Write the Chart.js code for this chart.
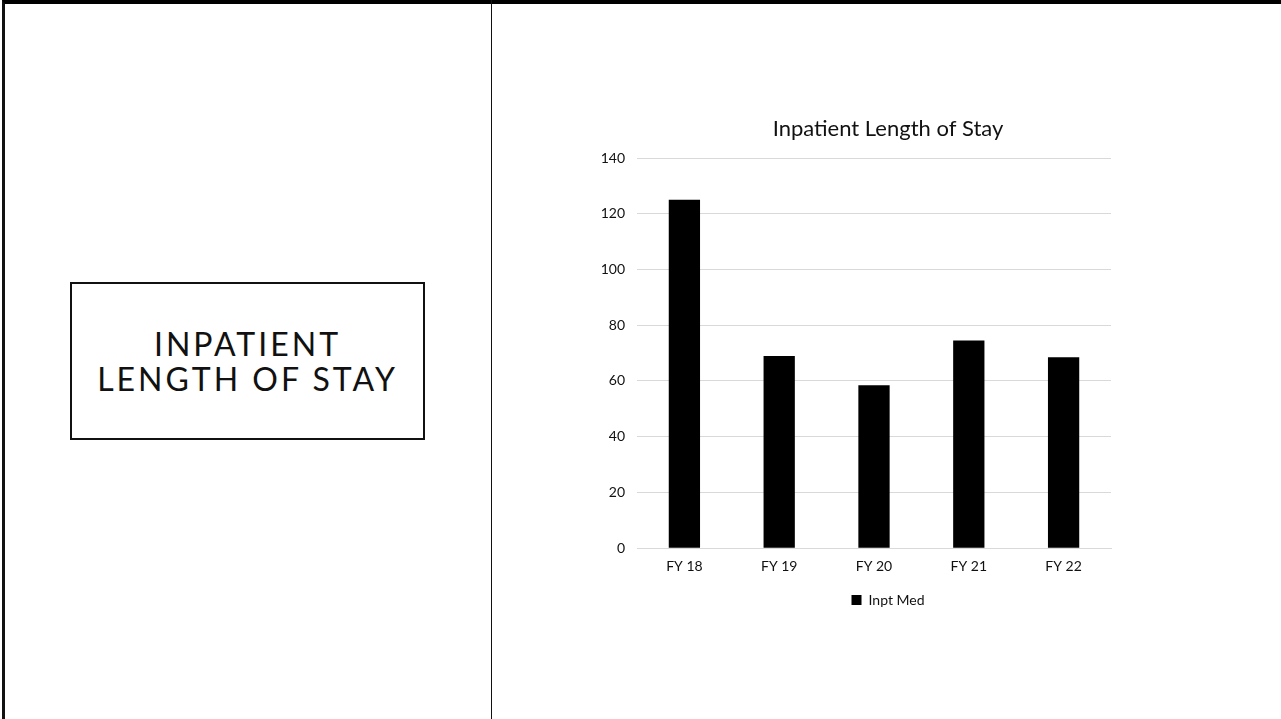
<!DOCTYPE html>
<html>
<head>
<meta charset="utf-8">
<script src="https://cdn.jsdelivr.net/npm/chart.js@4/dist/chart.umd.min.js"></script>
<style>
  html, body { margin: 0; padding: 0; background: #fff; }
  body { width: 1281px; height: 719px; position: relative; overflow: hidden; font-family: Lato, "Open Sans", sans-serif; }
  #marco { position: absolute; left: 2px; top: 0; width: 1276px; height: 716px; border-top: 4px solid #000; border-left: 3px solid #111; border-right: 2px solid #333; border-bottom: 1px solid #888; box-sizing: content-box; }
  #divisor { position: absolute; left: 491px; top: 0; width: 1px; height: 719px; background: #111; }
  #caja { position: absolute; left: 70px; top: 282px; width: 351px; height: 154px; border: 2px solid #111; display: flex; flex-direction: column; justify-content: center; align-items: center; }
  #caja div { font-size: 32px; letter-spacing: 3px; line-height: 35px; color: #111; }
  #grafico { position: absolute; left: 560px; top: 100px; }
</style>
</head>
<body>
<div id="marco"></div>
<div id="divisor"></div>
<div id="caja"><div>INPATIENT</div><div>LENGTH OF STAY</div></div>
<canvas id="grafico" width="600" height="517"></canvas>
<script>
// Datos del gráfico
const categorias = ['FY 18', 'FY 19', 'FY 20', 'FY 21', 'FY 22'];
const inptMed = [125, 69, 58.5, 74.5, 68.5];
const ticksY = [0, 20, 40, 60, 80, 100, 120, 140];

// Centra título y leyenda sobre el marco del gráfico (como en Excel), no sobre el área de ejes
const centrarTextos = {
    id: 'centrarTextos',
    afterLayout(chart) {
        const centro = 328;
        [chart.titleBlock, chart.legend].forEach(caja => {
            if (!caja) return;
            const d = centro - (caja.left + caja.right) / 2;
            caja.left += d;
            caja.right += d;
        });
    }
};

function renderChart() {
    const ctx = document.getElementById('grafico');
    new Chart(ctx.getContext('2d'), {
        type: 'bar',
        data: {
            labels: categorias,
            datasets: [{
                label: 'Inpt Med',
                data: inptMed,
                backgroundColor: '#000',
                borderWidth: 0,
                categoryPercentage: 1,
                barPercentage: 0.33
            }]
        },
        options: {
            responsive: false,
            animation: false,
            layout: { padding: { left: 30, right: 49, top: 0, bottom: 0 } },
            plugins: {
                title: {
                    display: true,
                    text: 'Inpatient Length of Stay',
                    color: '#111',
                    font: { family: 'Lato', size: 22, weight: 'normal' },
                    padding: { top: 16, bottom: 15.6 }
                },
                legend: {
                    position: 'bottom',
                    labels: {
                        color: '#111',
                        font: { family: 'Lato', size: 14 },
                        boxWidth: 10,
                        boxHeight: 10,
                        padding: 8
                    }
                },
                tooltip: { enabled: false }
            },
            scales: {
                x: {
                    grid: { display: false, drawTicks: false },
                    border: { color: '#d9d9d9' },
                    ticks: { color: '#111', font: { family: 'Lato', size: 14 }, padding: 10 }
                },
                y: {
                    min: 0,
                    max: 140,
                    afterBuildTicks: (eje) => { eje.ticks = ticksY.map(v => ({ value: v })); },
                    afterFit: (eje) => { eje.width = 47; },
                    grid: { color: '#d9d9d9', drawTicks: false },
                    border: { display: false },
                    ticks: { color: '#111', font: { family: 'Lato', size: 14 }, padding: 12 }
                }
            }
        },
        plugins: [centrarTextos]
    });
}

window.addEventListener('DOMContentLoaded', renderChart);
</script>
</body>
</html>
